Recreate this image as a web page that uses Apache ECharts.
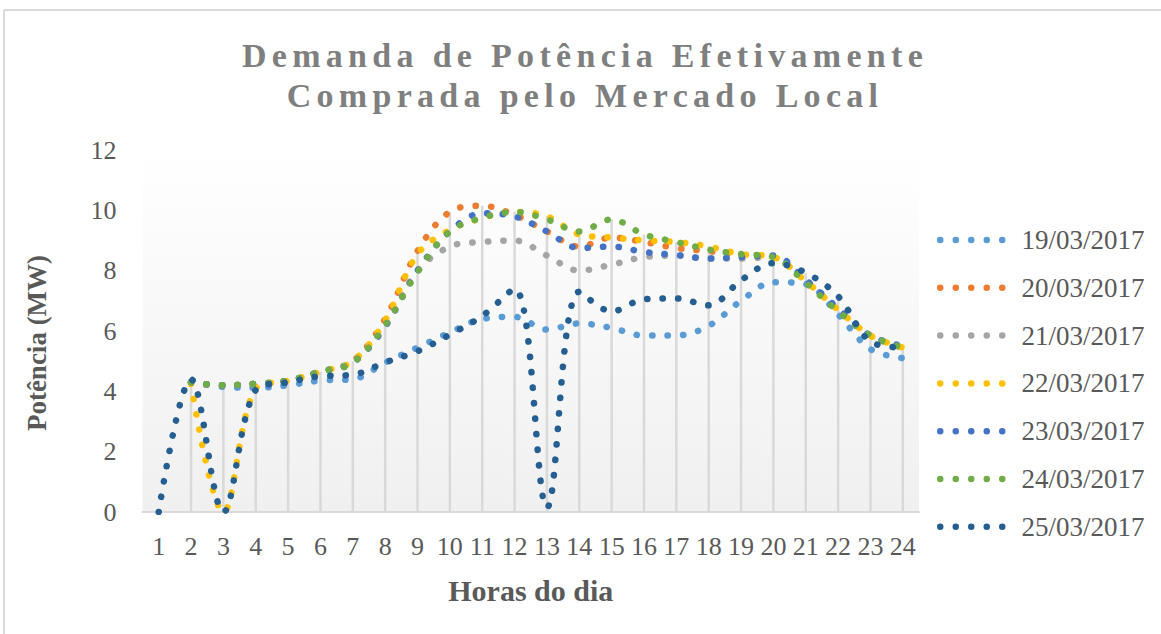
<!DOCTYPE html>
<html>
<head>
<meta charset="utf-8">
<title>Demanda de Potência</title>
<script src="https://cdn.jsdelivr.net/npm/echarts@6/dist/echarts.min.js"></script>
<style>
  html, body { margin: 0; padding: 0; background: #fff; }
  #chart { width: 1161px; height: 634px; }
</style>
</head>
<body>
<div id="chart"></div>
<script>
// horas do dia
var hours = ['1', '2', '3', '4', '5', '6', '7', '8', '9', '10', '11', '12',
  '13', '14', '15', '16', '17', '18', '19', '20', '21', '22', '23', '24'];

// potência (MW) por dia -- na hora 1 só o dia 25 aparece no gráfico
var d19 = [null, 4.3, 4.15, 4.12, 4.2, 4.36, 4.4, 4.95, 5.45, 5.95, 6.4, 6.47, 6.05, 6.25, 6.1, 5.85, 5.85, 6.17, 7.0, 7.62, 7.55, 6.55, 5.4, 5.1];
var d20 = [null, 4.3, 4.2, 4.25, 4.35, 4.65, 5.0, 6.4, 8.65, 9.95, 10.15, 9.85, 9.3, 8.8, 9.1, 8.95, 8.75, 8.65, 8.5, 8.45, 7.65, 6.7, 5.85, 5.45];
var d21 = [null, 4.3, 4.2, 4.25, 4.35, 4.65, 5.0, 6.2, 8.0, 8.8, 8.95, 9.0, 8.5, 8.0, 8.2, 8.45, 8.5, 8.4, 8.4, 8.45, 7.65, 6.7, 5.85, 5.45];
var d22 = [null, 4.25, 0, 4.1, 4.35, 4.65, 5.0, 6.35, 8.55, 9.35, 9.75, 9.95, 9.8, 9.2, 9.1, 9.0, 8.95, 8.8, 8.55, 8.45, 7.65, 6.7, 5.85, 5.45];
var d23 = [null, 4.3, 4.2, 4.25, 4.35, 4.65, 4.95, 6.15, 8.0, 9.3, 9.9, 9.8, 9.3, 8.75, 8.8, 8.62, 8.52, 8.4, 8.45, 8.5, 7.7, 6.75, 5.85, 5.5];
var d24 = [null, 4.3, 4.2, 4.25, 4.35, 4.65, 4.95, 6.2, 7.95, 9.3, 9.75, 9.95, 9.7, 9.3, 9.7, 9.2, 8.95, 8.7, 8.55, 8.45, 7.6, 6.65, 5.85, 5.45];
var d25 = [0, 4.4, 0, 4.05, 4.3, 4.5, 4.55, 4.96, 5.33, 5.88, 6.5, 7.4, 0.15, 7.3, 6.65, 7.05, 7.08, 6.85, 7.68, 8.25, 7.93, 7.15, 5.65, 5.45];

var names = ['19/03/2017', '20/03/2017', '21/03/2017', '22/03/2017', '23/03/2017', '24/03/2017', '25/03/2017'];
var colors = ['#5b9bd5', '#ed7d31', '#a5a5a5', '#ffc000', '#4472c4', '#70ad47', '#255e91'];
var yTicks = [0, 2, 4, 6, 8, 10, 12];

var titleLines = ['Demanda de Potência Efetivamente', 'Comprada pelo Mercado Local'];

var allDays = [d19, d20, d21, d22, d23, d24, d25];
// linhas de queda: do eixo até o maior valor de cada hora
var dropLines = hours.map(function (h, i) {
  return Math.max.apply(null, allDays.map(function (d) { return d[i] || 0; }));
});

var font = "'Liberation Serif', 'Times New Roman', serif";
// icone da legenda: cinco pontos
var dotsIcon = 'path://M0,3.25a3.25,3.25 0 1,0 6.5,0a3.25,3.25 0 1,0 -6.5,0' +
  'M15.5,3.25a3.25,3.25 0 1,0 6.5,0a3.25,3.25 0 1,0 -6.5,0' +
  'M31,3.25a3.25,3.25 0 1,0 6.5,0a3.25,3.25 0 1,0 -6.5,0' +
  'M46.5,3.25a3.25,3.25 0 1,0 6.5,0a3.25,3.25 0 1,0 -6.5,0' +
  'M62,3.25a3.25,3.25 0 1,0 6.5,0a3.25,3.25 0 1,0 -6.5,0';

var series = [{
  type: 'bar',
  data: dropLines,
  barWidth: 2.5,
  silent: true,
  z: 1,
  itemStyle: { color: '#d9d9d9' }
}];
allDays.forEach(function (d, i) {
  series.push({
    type: 'line',
    name: names[i],
    data: d,
    smooth: 0.35,
    showSymbol: false,
    symbol: 'none',
    z: 2 + i,
    color: colors[i],
    lineStyle: {
      color: colors[i],
      width: 6.5,
      type: [0.3, 15.2],
      cap: 'round'
    }
  });
});

var chart = echarts.init(document.getElementById('chart'), null, { renderer: 'svg' });

chart.setOption({
  animation: false,
  backgroundColor: '#ffffff',
  graphic: [
    { type: 'line', shape: { x1: 4, y1: 10, x2: 1161, y2: 10 }, style: { stroke: '#d9d9d9', lineWidth: 2 } },
    { type: 'line', shape: { x1: 4, y1: 10, x2: 4, y2: 634 }, style: { stroke: '#d9d9d9', lineWidth: 2 } },
    {
      type: 'text',
      x: 585,
      y: 35,
      style: {
        text: titleLines.join('\n'),
        align: 'center',
        verticalAlign: 'top',
        fill: '#7f7f7f',
        font: 'bold 34px ' + font,
        lineHeight: 40
      }
    }
  ],
  legend: {
    data: names,
    orient: 'vertical',
    left: 932,
    top: 221,
    itemWidth: 68.5,
    itemHeight: 6.5,
    itemGap: 19.8,
    icon: dotsIcon,
    itemStyle: { borderWidth: 0 },
    textStyle: {
      fontFamily: font,
      fontSize: 27,
      color: '#595959',
      lineHeight: 28,
      padding: [0, 0, 0, 11]
    }
  },
  grid: {
    left: 142.5,
    right: 242,
    top: 150,
    bottom: 122,
    show: true,
    borderWidth: 0,
    backgroundColor: new echarts.graphic.LinearGradient(0, 0, 0, 1, [
      { offset: 0, color: '#ffffff' },
      { offset: 1, color: '#f0f0f0' }
    ])
  },
  xAxis: {
    type: 'category',
    data: hours,
    boundaryGap: true,
    name: 'Horas do dia',
    nameLocation: 'middle',
    nameGap: 63,
    nameTextStyle: { fontFamily: font, fontSize: 30, fontWeight: 'bold', color: '#595959' },
    axisLine: { lineStyle: { color: '#d9d9d9', width: 2 } },
    axisTick: { show: false },
    axisLabel: { fontFamily: font, fontSize: 26, color: '#595959', margin: 21, interval: 0 },
    splitLine: { show: false }
  },
  yAxis: {
    type: 'value',
    min: yTicks[0],
    max: yTicks[yTicks.length - 1],
    interval: 2,
    name: 'Potência (MW)',
    nameLocation: 'middle',
    nameRotate: 90,
    nameGap: 92,
    nameTextStyle: {
      fontFamily: font, fontSize: 27, fontWeight: 'bold', color: '#595959',
      padding: [0, 24, 0, 0]
    },
    axisLine: { show: false },
    axisTick: { show: false },
    axisLabel: { fontFamily: font, fontSize: 26, color: '#595959', margin: 26 },
    splitLine: { show: false }
  },
  series: series
});

// espaçamento entre letras do título (como no original)
function spaceTitle() {
  document.querySelectorAll('#chart text, #chart tspan').forEach(function (t) {
    if (titleLines.indexOf(t.textContent.trim()) >= 0) {
      t.style.letterSpacing = '5.3px';
    }
  });
}
chart.on('finished', spaceTitle);
setTimeout(spaceTitle, 50);
</script>
</body>
</html>
